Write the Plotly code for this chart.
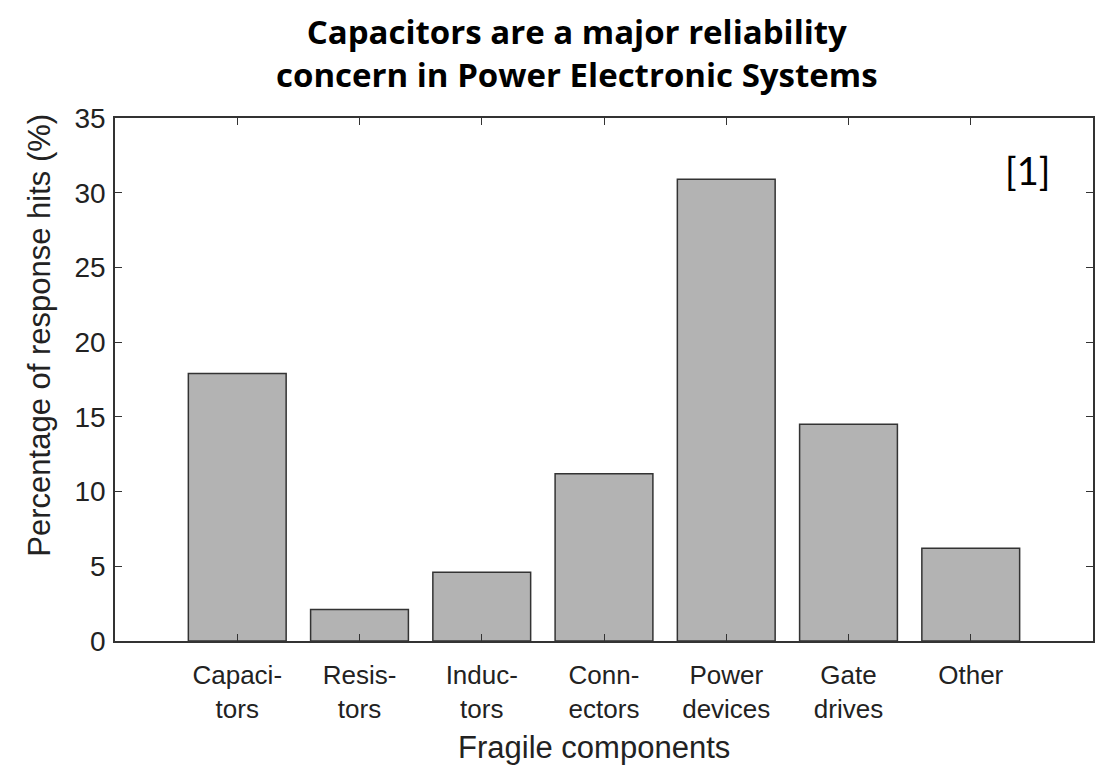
import plotly.graph_objects as go

categories = ["Capaci-<br>tors", "Resis-<br>tors", "Induc-<br>tors", "Conn-<br>ectors",
              "Power<br>devices", "Gate<br>drives", "Other"]
values = [17.9, 2.1, 4.6, 11.2, 30.9, 14.5, 6.2]
positions = [1, 2, 3, 4, 5, 6, 7]
y_ticks = [0, 5, 10, 15, 20, 25, 30, 35]

fig = go.Figure()
fig.add_trace(go.Bar(
    x=positions, y=values, width=0.8,
    marker=dict(color="#b3b3b3", line=dict(color="#333333", width=1.5)),
    hoverinfo="y",
))

sans = "Liberation Sans, Arial, sans-serif"

fig.update_layout(
    width=1096, height=759,
    margin=dict(l=107, r=9, t=110, b=126),
    paper_bgcolor="white", plot_bgcolor="white",
    showlegend=False,
    xaxis=dict(
        range=[0, 8], tickmode="array", tickvals=positions, ticktext=categories,
        ticks="inside", ticklen=7, tickcolor="#333333", tickwidth=1,
        showline=True, linecolor="#333333", linewidth=1.5, mirror="ticks",
        showgrid=False, zeroline=False, ticklabelstandoff=10,
        tickfont=dict(family=sans, size=26, color="#222222"),
    ),
    yaxis=dict(
        range=[0, 35], tickmode="array", tickvals=y_ticks,
        ticks="inside", ticklen=7, tickcolor="#333333", tickwidth=1,
        showline=True, linecolor="#333333", linewidth=1.5, mirror="ticks",
        showgrid=False, zeroline=False, ticklabelstandoff=2,
        tickfont=dict(family=sans, size=28, color="#222222"),
    ),
    annotations=[
        dict(text="<b>Capacitors are a major reliability<br>concern in Power Electronic Systems</b>",
             xref="paper", yref="paper", x=0.472, y=1.124, xanchor="center", yanchor="middle",
             showarrow=False, align="center",
             font=dict(family="Open Sans, Lato, sans-serif", size=33, color="black")),
        dict(text="Fragile components", xref="paper", yref="paper",
             x=0.49, y=-0.2027, xanchor="center", yanchor="middle", showarrow=False,
             font=dict(family=sans, size=31, color="#222222")),
        dict(text="Percentage of response hits (%)", xref="paper", yref="paper",
             x=-0.0776, y=0.584, xanchor="center", yanchor="middle", showarrow=False,
             textangle=-90, font=dict(family=sans, size=31, color="#222222")),
        dict(text="[1]", xref="paper", yref="paper", x=0.933, y=0.9006,
             xanchor="center", yanchor="middle", showarrow=False,
             font=dict(family="Lato, Open Sans, sans-serif", size=38, color="black")),
    ],
)

fig.write_html("out.html")
